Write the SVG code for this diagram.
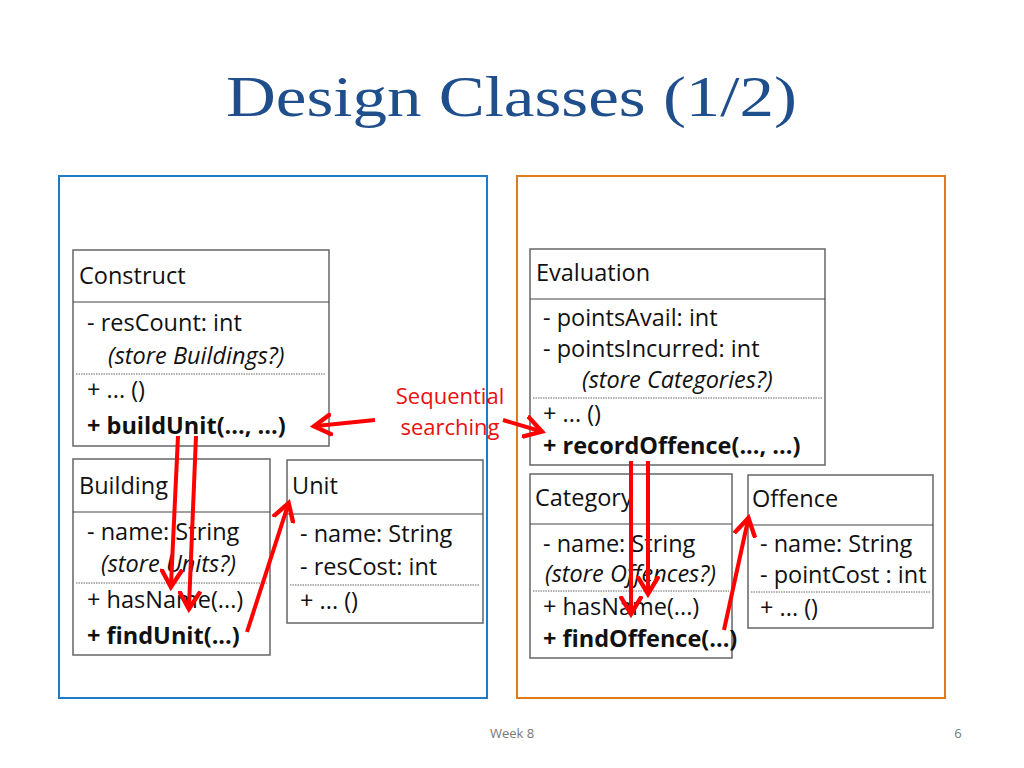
<svg xmlns="http://www.w3.org/2000/svg" width="1024" height="768" viewBox="0 0 1024 768">
<style>
.box{fill:#fff;stroke:#666;stroke-width:1.5}
.ln{stroke:#444;stroke-width:1.2}
.dt{stroke:#666;stroke-width:1;stroke-dasharray:1.5 1}
text{font-family:"Open Sans","Noto Sans",sans-serif;font-size:23.5px;fill:#111}
.i{font-style:italic}
.b{font-weight:bold}
.ar{stroke:#f00;stroke-width:4;fill:none;marker-end:url(#ah)}
</style>
<defs><marker id="ah" markerWidth="6" markerHeight="6" refX="4" refY="3" orient="auto" markerUnits="strokeWidth"><path d="M0,0.3 L4.5,3 L0,5.7" fill="none" stroke="#f00" stroke-width="1.1"/></marker></defs>
<rect width="1024" height="768" fill="#fff"/>
<text x="226" y="116" textLength="571" lengthAdjust="spacingAndGlyphs" style="font-family:'Liberation Serif',serif;font-size:58px;fill:#1f4e8c">Design Classes (1/2)</text>
<rect x="59" y="176" width="428" height="522" fill="none" stroke="#1f7ac8" stroke-width="2"/>
<rect x="517" y="176" width="428" height="522" fill="none" stroke="#e07b1a" stroke-width="2"/>
<g id="construct"><rect class="box" x="73" y="250" width="256" height="196"/><line class="ln" x1="73" y1="302" x2="329" y2="302"/><line class="dt" x1="76" y1="374" x2="326" y2="374"/>
<text x="79" y="284">Construct</text><text x="87" y="331">- resCount: int</text><text class="i" x="108" y="364">(store Buildings?)</text><text x="87" y="398">+ ... ()</text><text class="b" x="87" y="434">+ buildUnit(..., ...)</text></g>
<g id="building"><rect class="box" x="73" y="459" width="197" height="196"/><line class="ln" x1="73" y1="512" x2="270" y2="512"/><line class="dt" x1="76" y1="583" x2="267" y2="583"/>
<text x="79" y="494">Building</text><text x="87" y="540">- name: String</text><text class="i" x="101" y="572">(store Units?)</text><text x="87" y="608">+ hasName(...)</text><text class="b" x="87" y="644">+ findUnit(...)</text></g>
<g id="unit"><rect class="box" x="287" y="460" width="196" height="163"/><line class="ln" x1="287" y1="514" x2="483" y2="514"/><line class="dt" x1="290" y1="585" x2="480" y2="585"/>
<text x="292" y="494">Unit</text><text x="300" y="542">- name: String</text><text x="300" y="575">- resCost: int</text><text x="300" y="609">+ ... ()</text></g>
<g id="evaluation"><rect class="box" x="530" y="249" width="295" height="216"/><line class="ln" x1="530" y1="299" x2="825" y2="299"/><line class="dt" x1="533" y1="398" x2="822" y2="398"/>
<text x="536" y="281">Evaluation</text><text x="543" y="326">- pointsAvail: int</text><text x="543" y="357">- pointsIncurred: int</text><text class="i" x="582" y="388">(store Categories?)</text><text x="543" y="422">+ ... ()</text><text class="b" x="543" y="454">+ recordOffence(..., ...)</text></g>
<g id="category"><rect class="box" x="530" y="474" width="202" height="184"/><line class="ln" x1="530" y1="524" x2="732" y2="524"/><line class="dt" x1="533" y1="591" x2="729" y2="591"/>
<text x="535" y="506">Category</text><text x="543" y="552">- name: String</text><text class="i" x="545" y="582">(store Offences?)</text><text x="543" y="615">+ hasName(...)</text><text class="b" x="543" y="647">+ findOffence(...)</text></g>
<g id="offence"><rect class="box" x="748" y="475" width="185" height="153"/><line class="ln" x1="748" y1="525" x2="933" y2="525"/><line class="dt" x1="751" y1="592" x2="930" y2="592"/>
<text x="752" y="507">Offence</text><text x="760" y="552">- name: String</text><text x="760" y="583">- pointCost : int</text><text x="760" y="616">+ ... ()</text></g>
<text x="450" y="404" text-anchor="middle" style="fill:#e81010;font-size:22px">Sequential</text>
<text x="450" y="435" text-anchor="middle" style="fill:#e81010;font-size:22px">searching</text>
<g id="connectors">
<line class="ar" x1="375" y1="420" x2="316" y2="426"/>
<line class="ar" x1="503" y1="420" x2="540" y2="431"/>
<line class="ar" x1="178" y1="436" x2="171" y2="585"/>
<line class="ar" x1="196" y1="436" x2="189" y2="607"/>
<line class="ar" x1="247" y1="632" x2="288" y2="505"/>
<line class="ar" x1="631" y1="461" x2="631" y2="612"/>
<line class="ar" x1="648" y1="461" x2="648" y2="592"/>
<line class="ar" x1="724" y1="630" x2="748" y2="520"/>
</g>
<text x="512" y="738" text-anchor="middle" style="font-size:13px;fill:#777">Week 8</text>
<text x="958" y="738" text-anchor="middle" style="font-size:13px;fill:#777">6</text>
</svg>
